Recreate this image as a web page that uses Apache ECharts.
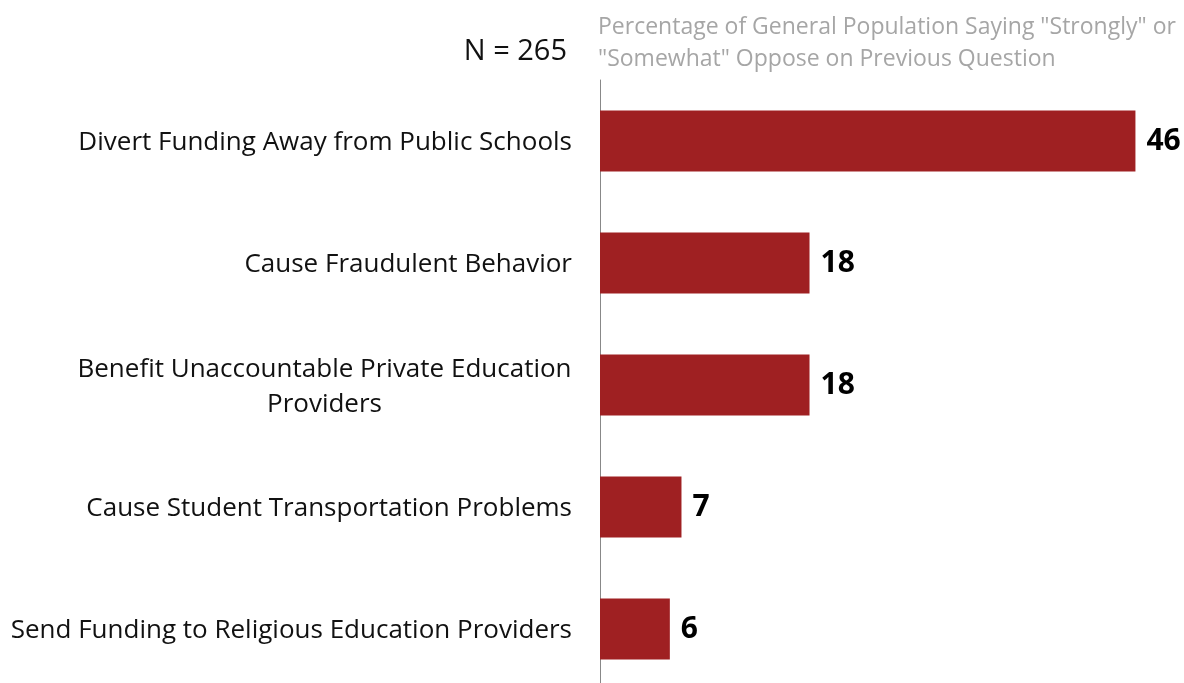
<!DOCTYPE html>
<html>
<head>
<meta charset="utf-8">
<script src="https://cdn.jsdelivr.net/npm/echarts@6/dist/echarts.min.js"></script>
<style>
  html, body { margin: 0; padding: 0; background: #fff; overflow: hidden; }
  #chart { width: 1184px; height: 700px; }
</style>
</head>
<body>
<div id="chart"></div>
<script>
// Reasons for opposing, share of respondents (%)
const categories = [
  'Divert Funding Away from Public Schools',
  'Cause Fraudulent Behavior',
  'Benefit Unaccountable Private Education\nProviders',
  'Cause Student Transportation Problems',
  'Send Funding to Religious Education Providers'
];
const values = [46, 18, 18, 7, 6];
const sampleNote = 'N = 265';
const subtitleLines = [
  'Percentage of General Population Saying "Strongly" or',
  '"Somewhat" Oppose on Previous Question'
];

const FONT = 'Open Sans';
const LABEL_SIZE = 26;

// Measure a text line so wrapped labels can centre their shorter lines
function textWidth(str, size, weight) {
  const c = document.createElement('canvas').getContext('2d');
  c.font = (weight || 'normal') + ' ' + size + 'px ' + FONT;
  return Math.ceil(c.measureText(str).width);
}

const labelRich = { line: { width: 0, align: 'center', fontSize: LABEL_SIZE, fontFamily: FONT, color: '#111', lineHeight: 35 } };
function formatCategory(label) {
  const lines = label.split('\n');
  if (lines.length === 1) return label;
  const w = Math.max.apply(null, lines.map(l => textWidth(l, LABEL_SIZE)));
  labelRich.line.width = w;
  return lines.map(l => '{line|' + l + '}').join('\n');
}
const displayCategories = categories.map(formatCategory);

const chart = echarts.init(document.getElementById('chart'), null, { renderer: 'canvas' });
chart.setOption({
  animation: false,
  backgroundColor: '#fff',
  title: [
    {
      text: sampleNote,
      right: 1184 - 567,
      top: 35,
      padding: 0,
      textStyle: { fontFamily: FONT, fontSize: 29, fontWeight: 'normal', color: '#111', lineHeight: 34 }
    },
    {
      text: subtitleLines.join('\n'),
      left: 598,
      top: 11,
      padding: 0,
      textStyle: { fontFamily: FONT, fontSize: 23, fontWeight: 'normal', color: '#a6a6a6', lineHeight: 32 }
    }
  ],
  grid: { left: 600, top: 80, width: 582, height: 610, containLabel: false },
  xAxis: {
    type: 'value', min: 0, max: 50, show: false,
    splitLine: { show: false }
  },
  yAxis: {
    type: 'category',
    inverse: true,
    data: displayCategories,
    axisTick: { show: false },
    axisLine: { show: true, lineStyle: { color: '#888', width: 1 } },
    axisLabel: {
      margin: 28,
      fontFamily: FONT,
      fontSize: LABEL_SIZE,
      color: '#111',
      lineHeight: 35,
      align: 'right',
      padding: [4, 0, 0, 0],
      rich: labelRich
    }
  },
  series: [{
    type: 'bar',
    data: values,
    barWidth: '50%',
    itemStyle: { color: '#9f2022' },
    label: {
      show: true,
      position: 'right',
      distance: 11,
      fontFamily: FONT,
      fontSize: 30,
      fontWeight: 'bold',
      color: '#000'
    }
  }]
});
</script>
</body>
</html>
